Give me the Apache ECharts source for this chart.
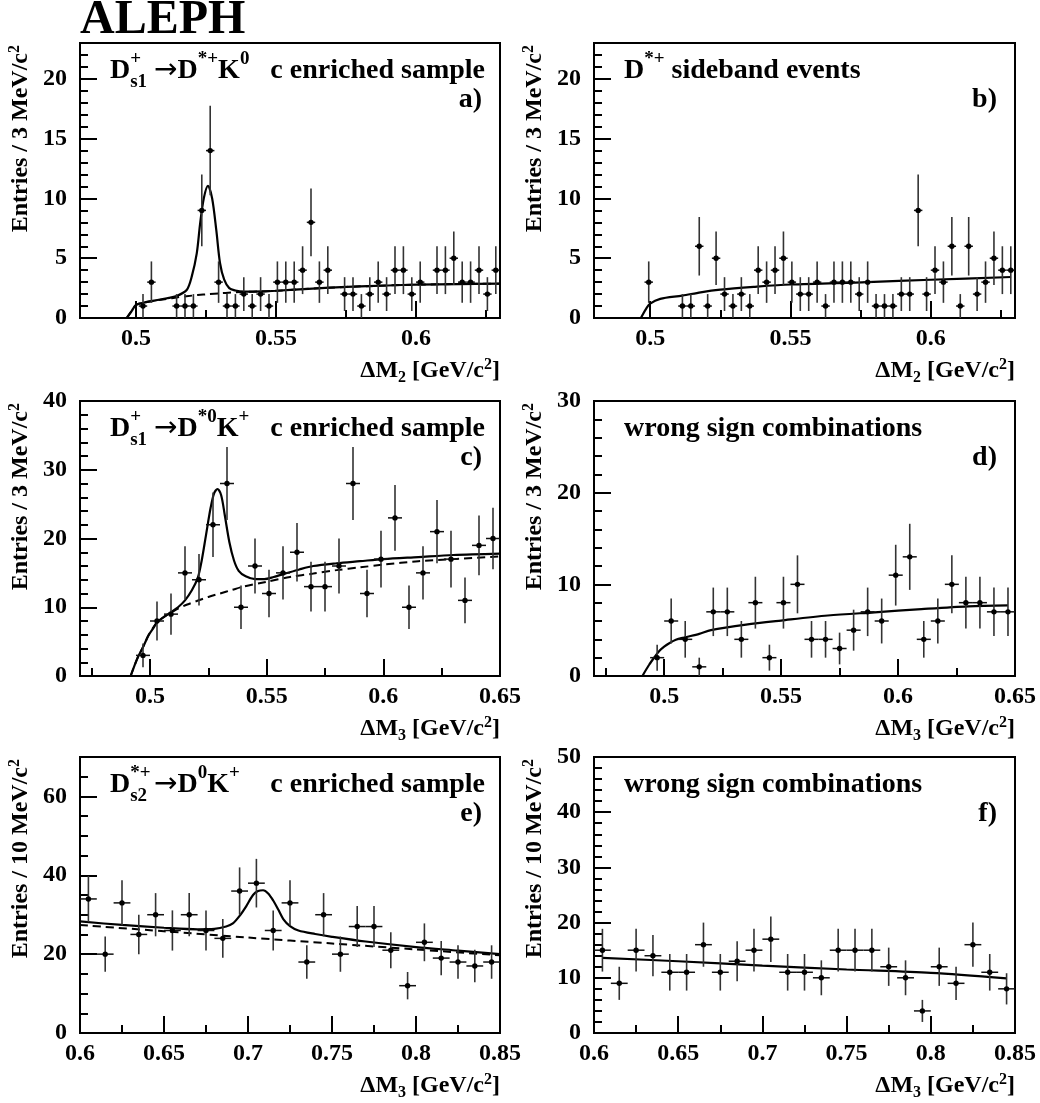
<!DOCTYPE html>
<html>
<head>
<meta charset="utf-8">
<title>ALEPH</title>
<script src="https://cdn.jsdelivr.net/npm/echarts@6.0.0/dist/echarts.min.js"></script>
<style>html,body{margin:0;padding:0;background:#fff;}#chart{width:1040px;height:1103px;}</style>
</head>
<body>
<div id="chart"></div>
<script>
// ---------------- data ----------------
// panel a: D_s1 -> D*+ K0, c enriched sample  [bin centre, entries]
const aPoints = [[0.5025,1],[0.5055,3],[0.5145,1],[0.5175,1],[0.5205,1],[0.5235,9],[0.5265,14],[0.5295,3],
  [0.5325,1],[0.5355,1],[0.5385,2],[0.5415,1],[0.5445,2],[0.5475,1],[0.5505,3],[0.5535,3],[0.5565,3],
  [0.5595,4],[0.5625,8],[0.5655,3],[0.5685,4],[0.5745,2],[0.5775,2],[0.5805,1],[0.5835,2],[0.5865,3],
  [0.5895,2],[0.5925,4],[0.5955,4],[0.5985,2],[0.6015,3],[0.6075,4],[0.6105,4],[0.6135,5],[0.6165,3],
  [0.6195,3],[0.6225,4],[0.6255,2],[0.6285,4]];
// panel b: D*+ sideband events
const bPoints = [[0.4995,3],[0.5115,1],[0.5145,1],[0.5175,6],[0.5205,1],[0.5235,5],[0.5265,2],[0.5295,1],
  [0.5325,2],[0.5355,1],[0.5385,4],[0.5415,3],[0.5445,4],[0.5475,5],[0.5505,3],[0.5535,2],[0.5565,2],
  [0.5595,3],[0.5625,1],[0.5655,3],[0.5685,3],[0.5715,3],[0.5745,2],[0.5775,3],[0.5805,1],[0.5835,1],
  [0.5865,1],[0.5895,2],[0.5925,2],[0.5955,9],[0.5985,2],[0.6015,4],[0.6045,3],[0.6075,6],[0.6105,1],
  [0.6135,6],[0.6165,2],[0.6195,3],[0.6225,5],[0.6255,4],[0.6285,4]];
// panels c, d: bin centres and entries
const cdBinX = [0.497,0.503,0.509,0.515,0.521,0.527,0.533,0.539,0.545,0.551,0.557,0.563,0.569,
  0.575,0.581,0.587,0.593,0.599,0.605,0.611,0.617,0.623,0.629,0.635,0.641,0.647];
const cCounts = [3,8,9,15,14,22,28,10,16,12,15,18,13,13,16,28,12,17,23,10,15,21,17,11,19,20];
const dCounts = [2,6,4,1,7,7,4,8,2,8,10,4,4,3,5,7,6,11,13,4,6,10,8,8,7,7];
// panels e, f
const efBinX = [0.605,0.615,0.625,0.635,0.645,0.655,0.665,0.675,0.685,0.695,0.705,0.715,0.725,
  0.735,0.745,0.755,0.765,0.775,0.785,0.795,0.805,0.815,0.825,0.835,0.845];
const eCounts = [34,20,33,25,30,26,30,26,24,36,38,26,33,18,30,20,27,27,21,12,23,19,18,17,18];
const fCounts = [15,9,15,14,11,11,16,11,13,15,17,11,11,10,15,15,15,12,10,4,12,9,16,11,8];

// fitted curves (solid) and background (dashed)
const aFit = [[0.4967,0],[0.4985,0.6],[0.5,1.09],[0.5026,1.28],[0.507,1.48],[0.511,1.65],[0.5145,1.84],
  [0.5181,2.34],[0.5199,3.46],[0.5217,5.4],[0.5229,7.9],[0.5242,10.0],[0.5257,11.05],[0.5272,10.0],
  [0.5287,7.3],[0.530,4.6],[0.5315,3.2],[0.5333,2.5],[0.5355,2.3],[0.5383,2.2],[0.545,2.22],[0.5503,2.28],
  [0.56,2.42],[0.5752,2.6],[0.59,2.72],[0.6002,2.79],[0.615,2.84],[0.63,2.87]];
const aBkg = [[0.4967,0],[0.4985,0.6],[0.5,1.09],[0.5026,1.28],[0.507,1.46],[0.511,1.6],[0.5145,1.72],
  [0.518,1.82],[0.522,1.92],[0.526,2.0],[0.53,2.07],[0.534,2.13],[0.5383,2.19],[0.545,2.22],[0.5503,2.28],
  [0.56,2.42],[0.5752,2.6],[0.59,2.72],[0.6002,2.79],[0.615,2.84],[0.63,2.87]];
const bFit = [[0.4967,0],[0.4985,0.75],[0.5,1.2],[0.5036,1.6],[0.5115,1.87],[0.518,2.15],[0.525,2.37],
  [0.5369,2.6],[0.55,2.8],[0.5774,3.0],[0.6,3.2],[0.6286,3.43]];
const cFit = [[0.4917,0],[0.4945,2.5],[0.497,4.2],[0.4995,6.0],[0.5015,7.0],[0.503,7.8],[0.506,8.6],
  [0.509,9.3],[0.512,10.0],[0.515,11.0],[0.518,12.5],[0.5205,14.3],[0.522,16.5],[0.524,20.5],[0.526,24.5],
  [0.5275,26.6],[0.5289,27.2],[0.5305,26.3],[0.532,23.5],[0.534,19.5],[0.536,16.8],[0.538,15.3],
  [0.541,14.5],[0.545,14.1],[0.549,14.1],[0.553,14.4],[0.558,14.9],[0.564,15.5],[0.57,16.0],[0.58,16.4],
  [0.59,16.7],[0.6,17.0],[0.615,17.3],[0.63,17.6],[0.65,17.8]];
const cBkg = [[0.4917,0],[0.4945,2.5],[0.497,4.2],[0.4995,6.0],[0.503,7.8],[0.506,8.6],[0.509,9.2],
  [0.512,9.8],[0.516,10.4],[0.52,10.9],[0.525,11.5],[0.53,12.0],[0.535,12.5],[0.54,13.0],[0.55,13.7],
  [0.56,14.4],[0.57,14.9],[0.58,15.4],[0.59,15.8],[0.6,16.2],[0.615,16.7],[0.63,17.0],[0.65,17.4]];
const dFit = [[0.4907,0],[0.4935,1.2],[0.496,2.1],[0.498,2.75],[0.5,3.2],[0.502,3.55],[0.505,3.95],
  [0.5085,4.2],[0.515,4.6],[0.52,5.0],[0.535,5.6],[0.55,6.05],[0.57,6.6],[0.59,6.95],[0.61,7.3],
  [0.63,7.6],[0.647,7.7]];
const eFit = [[0.6,28.3],[0.625,27.4],[0.65,26.7],[0.67,26.3],[0.68,26.4],[0.687,27.0],[0.691,27.8],
  [0.695,29.7],[0.699,32.2],[0.703,35.0],[0.706,36.0],[0.709,36.2],[0.712,35.4],[0.715,33.6],
  [0.718,31.3],[0.721,28.9],[0.725,27.1],[0.73,26.0],[0.74,25.1],[0.75,24.4],[0.77,23.2],[0.8,21.8],
  [0.825,20.9],[0.85,20.0]];
const eBkg = [[0.6,27.4],[0.65,25.8],[0.7,24.2],[0.75,22.7],[0.8,21.2],[0.85,19.7]];
const fFit = [[0.605,13.6],[0.65,13.0],[0.7,12.2],[0.75,11.5],[0.8,10.9],[0.845,9.9]];

// tick labels
const abXTicks = [0.5, 0.55, 0.6];
const cdXTicks = [0.5, 0.55, 0.6, 0.65];
const efXTicks = [0.6, 0.65, 0.7, 0.75, 0.8, 0.85];
const abYTicks = [0, 5, 10, 15, 20];
const cYTicks = [0, 10, 20, 30, 40];
const dYTicks = [0, 10, 20, 30];
const eYTicks = [0, 20, 40, 60];
const fYTicks = [0, 10, 20, 30, 40, 50];
// minor tick positions
const abXMinor = [0.525, 0.575, 0.625];
const cdXMinor = [0.475, 0.525, 0.575, 0.625];
const efXMinor = [0.625, 0.675, 0.725, 0.775, 0.825];
function minorTicks(max, step, majorStep) {
  const out = [];
  for (let v = step; v < max - 1e-9; v += step) {
    const r = Math.round(v * 1000) / 1000;
    if (Math.abs(r / majorStep - Math.round(r / majorStep)) > 1e-6) out.push(r);
  }
  return out;
}

// ---------------- layout ----------------
const FONT = '"Liberation Serif","Times New Roman",Times,serif';
const L = [80, 420], R = [594, 421];
const ROWS = [[43, 275], [401, 275], [757, 276]];

const panels = [
  {col: L, row: ROWS[0], xr: [0.48, 0.63], yMax: 23, xMajor: abXTicks, xMinor: abXMinor, yMajor: abYTicks,
   yMinor: minorTicks(23, 1, 5), pts: aPoints, hw: 0.0015, fit: aFit, bkg: aBkg},
  {col: R, row: ROWS[0], xr: [0.48, 0.63], yMax: 23, xMajor: abXTicks, xMinor: abXMinor, yMajor: abYTicks,
   yMinor: minorTicks(23, 1, 5), pts: bPoints, hw: 0.0015, fit: bFit},
  {col: L, row: ROWS[1], xr: [0.47, 0.65], yMax: 40, xMajor: cdXTicks, xMinor: cdXMinor, yMajor: cYTicks,
   yMinor: minorTicks(40, 2, 10), pts: cdBinX.map((x, i) => [x, cCounts[i]]), hw: 0.003, fit: cFit, bkg: cBkg},
  {col: R, row: ROWS[1], xr: [0.47, 0.65], yMax: 30, xMajor: cdXTicks, xMinor: cdXMinor, yMajor: dYTicks,
   yMinor: minorTicks(30, 2, 10), pts: cdBinX.map((x, i) => [x, dCounts[i]]), hw: 0.003, fit: dFit},
  {col: L, row: ROWS[2], xr: [0.6, 0.85], yMax: 70, xMajor: efXTicks, xMinor: efXMinor, yMajor: eYTicks,
   yMinor: minorTicks(70, 5, 20), pts: efBinX.map((x, i) => [x, eCounts[i]]), hw: 0.005, fit: eFit, bkg: eBkg},
  {col: R, row: ROWS[2], xr: [0.6, 0.85], yMax: 50, xMajor: efXTicks, xMinor: efXMinor, yMajor: fYTicks,
   yMinor: minorTicks(50, 2, 10), pts: efBinX.map((x, i) => [x, fCounts[i]]), hw: 0.005, fit: fFit}
];

const grids = [], xAxes = [], yAxes = [], series = [];
const lbl = {color: '#000', fontFamily: FONT, fontWeight: 'bold', fontSize: 24};
panels.forEach((p, i) => {
  grids.push({left: p.col[0], top: p.row[0], width: p.col[1], height: p.row[1], show: true,
    borderColor: '#000', borderWidth: 2, backgroundColor: 'rgba(0,0,0,0)', containLabel: false});
  const xBase = {type: 'value', gridIndex: i, position: 'bottom', min: p.xr[0], max: p.xr[1],
    axisLine: {show: false}, splitLine: {show: false}, minorTick: {show: false}};
  xAxes.push(Object.assign({}, xBase, {
    axisTick: {show: true, inside: true, length: 17, customValues: p.xMajor, lineStyle: {color: '#000', width: 2}},
    axisLabel: Object.assign({show: true, customValues: p.xMajor, margin: 9, formatter: v => String(v)}, lbl)}));
  xAxes.push(Object.assign({}, xBase, {
    axisTick: {show: true, inside: true, length: 8, customValues: p.xMinor, lineStyle: {color: '#000', width: 2}},
    axisLabel: {show: false}}));
  const yBase = {type: 'value', gridIndex: i, position: 'left', min: 0, max: p.yMax,
    axisLine: {show: false}, splitLine: {show: false}, minorTick: {show: false}};
  yAxes.push(Object.assign({}, yBase, {
    axisTick: {show: true, inside: true, length: 17, customValues: p.yMajor, lineStyle: {color: '#000', width: 2}},
    axisLabel: Object.assign({show: true, customValues: p.yMajor, margin: 13, formatter: v => String(v)}, lbl)}));
  yAxes.push(Object.assign({}, yBase, {
    axisTick: {show: true, inside: true, length: 8, customValues: p.yMinor, lineStyle: {color: '#000', width: 2}},
    axisLabel: {show: false}}));

  const ax = {xAxisIndex: 2 * i, yAxisIndex: 2 * i};
  if (p.bkg) series.push(Object.assign({type: 'line', data: p.bkg, showSymbol: false, symbol: 'none',
    smooth: 0.3, z: 2, silent: true, lineStyle: {color: '#000', width: 2, type: [8, 5]}}, ax));
  series.push(Object.assign({type: 'line', data: p.fit, showSymbol: false, symbol: 'none',
    smooth: 0.3, z: 3, silent: true, lineStyle: {color: '#000', width: 2.2}}, ax));
  const hw = p.hw;
  series.push(Object.assign({type: 'custom', data: p.pts, z: 4, silent: true, clip: true,
    renderItem: function (params, api) {
      const x = api.value(0), n = api.value(1), e = Math.sqrt(n);
      const c = api.coord([x, n]);
      const lo = api.coord([x, Math.max(0, n - e)]), hi = api.coord([x, n + e]);
      const l = api.coord([x - hw, n]), r = api.coord([x + hw, n]);
      return {type: 'group', children: [
        {type: 'line', shape: {x1: c[0], y1: lo[1], x2: c[0], y2: hi[1]}, style: {stroke: '#333', lineWidth: 1.6}},
        {type: 'line', shape: {x1: l[0], y1: c[1], x2: r[0], y2: c[1]}, style: {stroke: '#111', lineWidth: 1.5}},
        {type: 'circle', shape: {cx: c[0], cy: c[1], r: 2.7}, style: {fill: '#000'}}
      ]};
    }}, ax));
});

// ---------------- texts ----------------
const tok = (fs, lh, va, extra) => Object.assign({fontSize: fs, fontWeight: 'bold', fontFamily: FONT,
  lineHeight: lh, verticalAlign: va, fill: '#000', color: '#000'}, extra || {});
const richAnno = {m: tok(28, 42, 'middle'), p: tok(19, 19, 'top'), pz: tok(19, 19, 'top', {width: 0, align: 'left'}),
  b: tok(19, 24, 'bottom'), ar: tok(28, 42, 'middle', {fontFamily: '"DejaVu Sans"', fontWeight: 'normal'})};
const richAxis = {m: tok(24, 29, 'middle'), p: tok(16, 16, 'top'), b: tok(16, 16, 'bottom')};

function txt(x, y, text, fs, align, rich, rot) {
  return {type: 'text', x: x, y: y, rotation: rot || 0, silent: true, z: 100,
    style: {text: text, fill: '#000', font: 'bold ' + fs + 'px ' + FONT, align: align, textAlign: align,
      verticalAlign: 'middle', textVerticalAlign: 'middle', rich: rich}};
}
const G = [];
G.push(txt(80, 21, 'ALEPH', 48, 'left'));
const annos = [
  {f: '{m|D}{pz|+}{b|s1}{m| }{ar|\u2192}{m|D}{p|*+}{m|K}{p|0}', s: 'c enriched sample', tag: 'a)'},
  {f: '{m|D}{p|*+}{m| sideband events}', s: null, tag: 'b)'},
  {f: '{m|D}{pz|+}{b|s1}{m| }{ar|\u2192}{m|D}{p|*0}{m|K}{p|+}', s: 'c enriched sample', tag: 'c)'},
  {f: '{m|wrong sign combinations}', s: null, tag: 'd)'},
  {f: '{m|D}{pz|*+}{b|s2}{m| }{ar|\u2192}{m|D}{p|0}{m|K}{p|+}', s: 'c enriched sample', tag: 'e)'},
  {f: '{m|wrong sign combinations}', s: null, tag: 'f)'}
];
const yTitles = ['3', '3', '3', '3', '10', '10'];
const xTitles = ['2', '2', '3', '3', '3', '3'];
panels.forEach((p, i) => {
  const left = p.col[0], right = p.col[0] + p.col[1], top = p.row[0], bottom = p.row[0] + p.row[1];
  const a = annos[i];
  G.push(txt(left + 30, top + 28, a.f, 28, 'left', richAnno));
  if (a.s) G.push(txt(left + 405, top + 28, a.s, 28, 'right'));
  G.push(txt(right - 18, top + 57, a.tag, 28, 'right'));
  G.push(txt(left - 59, top + 2, '{m|Entries / ' + yTitles[i] + ' MeV/c}{p|2}', 24, 'right', richAxis, Math.PI / 2));
  G.push(txt(right, bottom + 53, '{m|\u0394M}{b|' + xTitles[i] + '}{m| [GeV/c}{p|2}{m|]}', 24, 'right', richAxis));
});

const chart = echarts.init(document.getElementById('chart'), null, {renderer: 'canvas'});
chart.setOption({
  animation: false,
  backgroundColor: '#fff',
  grid: grids, xAxis: xAxes, yAxis: yAxes, series: series,
  graphic: {elements: G}
});
</script>
</body>
</html>
